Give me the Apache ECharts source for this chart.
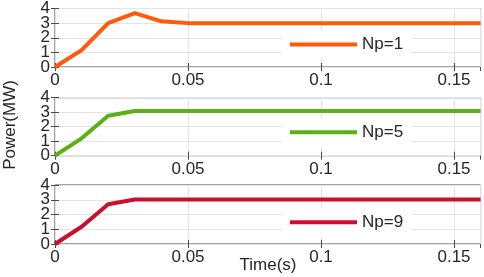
<!DOCTYPE html>
<html>
<head>
<meta charset="utf-8">
<script src="https://cdn.jsdelivr.net/npm/echarts@6/dist/echarts.min.js"></script>
<style>html,body{margin:0;padding:0;background:#fff}#c{width:484px;height:277px}</style>
</head>
<body>
<div id="c"></div>
<script>
const times = [0, 0.01, 0.02, 0.03, 0.04, 0.05, 0.06, 0.08, 0.10, 0.12, 0.14, 0.16];
const np1 = [0, 1.15, 3.0, 3.68, 3.12, 3.0, 3.0, 3.0, 3.0, 3.0, 3.0, 3.0];
const np5 = [0, 1.2, 2.76, 3.08, 3.08, 3.08, 3.08, 3.08, 3.08, 3.08, 3.08, 3.08];
const np9 = [0, 1.17, 2.69, 3.02, 3.02, 3.02, 3.02, 3.02, 3.02, 3.02, 3.02, 3.02];
const seriesNames = ['Np=1', 'Np=5', 'Np=9'];
const seriesData = [np1, np5, np9];
const colors = ['#ff5a0a', '#5cb014', '#c8102e'];
const yTicks = [0, 1, 2, 3, 4];
const xLabel = 'Time(s)';
const yLabel = 'Power(MW)';

const FONT = 'Liberation Sans, Arial, sans-serif';
const gridTops = [8, 97.7, 185];
const gridH = [59, 58, 59];
const legendCenters = [45, 132.7, 222.7];

const grid = [], xAxis = [], yAxis = [], series = [], legend = [];
const yLabelStyle = {show: true, showMinLabel: true, showMaxLabel: true, hideOverlap: false, margin: 5, fontSize: 17, fontFamily: FONT, color: '#262626'};
for (let i = 0; i < 3; i++) {
  grid.push({left: 55, top: gridTops[i], height: gridH[i], width: 425.6, show: true, borderColor: '#4a4a4a', borderWidth: 1, backgroundColor: '#fff'});
  xAxis.push({
    type: 'value', gridIndex: i, min: 0, max: 0.16, interval: 0.05, position: 'bottom',
    axisLine: {show: false},
    axisTick: {show: true, inside: true, length: 4, lineStyle: {color: '#4a4a4a'}},
    axisLabel: {show: true, showMinLabel: true, showMaxLabel: false, hideOverlap: false, margin: 5, fontSize: 17, fontFamily: FONT, color: '#262626'},
    splitLine: {show: true, lineStyle: {color: '#e4e4e4', width: 1}}
  });
  xAxis.push({
    type: 'value', gridIndex: i, min: 0, max: 0.16, interval: 0.05, position: 'top',
    axisLine: {show: false},
    axisTick: {show: true, inside: true, length: 4, lineStyle: {color: '#4a4a4a'}},
    axisLabel: {show: false}, splitLine: {show: false}
  });
  // main left axis: ticks, grid lines, even labels
  yAxis.push({
    type: 'value', gridIndex: i, min: yTicks[0], max: yTicks[yTicks.length - 1], interval: 1, position: 'left',
    axisLine: {show: false},
    axisTick: {show: true, inside: true, length: 4, lineStyle: {color: '#4a4a4a'}},
    axisLabel: Object.assign({}, yLabelStyle, {formatter: v => (v % 2 === 0 ? String(v) : '')}),
    splitLine: {show: true, lineStyle: {color: '#e4e4e4', width: 1}}
  });
  // right axis: ticks only
  yAxis.push({
    type: 'value', gridIndex: i, min: yTicks[0], max: yTicks[yTicks.length - 1], interval: 1, position: 'right',
    axisLine: {show: false},
    axisTick: {show: true, inside: true, length: 4, lineStyle: {color: '#4a4a4a'}},
    axisLabel: {show: false}, splitLine: {show: false}
  });
  // second left axis: odd labels
  yAxis.push({
    type: 'value', gridIndex: i, min: yTicks[0], max: yTicks[yTicks.length - 1], interval: 1, position: 'left', offset: 0,
    axisLine: {show: false}, axisTick: {show: false}, splitLine: {show: false},
    axisLabel: Object.assign({}, yLabelStyle, {formatter: v => (v % 2 === 1 ? String(v) : '')})
  });
  series.push({
    name: seriesNames[i], type: 'line', xAxisIndex: i * 2, yAxisIndex: i * 3,
    data: times.map((t, k) => [t, seriesData[i][k]]),
    showSymbol: false, symbol: 'none', clip: false,
    lineStyle: {color: colors[i], width: 4}, itemStyle: {color: colors[i]},
    z: 3
  });
  legend.push({
    data: [{name: seriesNames[i], icon: 'rect'}],
    left: 282, top: legendCenters[i] - 15, orient: 'horizontal',
    itemWidth: 67, itemHeight: 4, itemGap: 5,
    padding: [6, 8, 6, 8],
    backgroundColor: '#fff',
    textStyle: {fontSize: 17, fontFamily: FONT, color: '#262626', padding: [0, 0, 0, 0]},
    selectedMode: false
  });
}

const chart = echarts.init(document.getElementById('c'), null, {renderer: 'canvas'});
chart.setOption({
  animation: false,
  backgroundColor: '#fff',
  grid, xAxis, yAxis, series, legend,
  graphic: [
    {type: 'text', x: 268, y: 265, style: {text: xLabel, font: '17px ' + FONT, fill: '#262626', align: 'center', verticalAlign: 'middle'}, z: 10},
    {type: 'text', x: 10, y: 125, rotation: Math.PI / 2, style: {text: yLabel, font: '17px ' + FONT, fill: '#262626', align: 'center', verticalAlign: 'middle'}, z: 10}
  ]
});
</script>
</body>
</html>
